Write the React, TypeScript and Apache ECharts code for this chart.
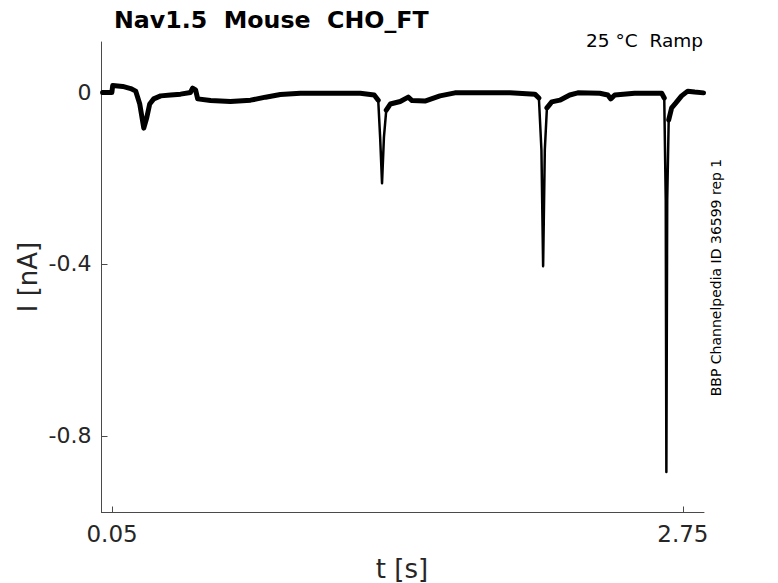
import React, { useEffect, useRef } from "react";
import * as echarts from "echarts";

// Time (s) and current (nA)
const timeS: number[] = [
  0.005, 0.049, 0.053, 0.1005, 0.138, 0.162, 0.181, 0.2, 0.214, 0.228, 0.247, 0.28, 0.327, 0.374,
  0.421, 0.431, 0.445, 0.455, 0.516, 0.61, 0.705, 0.776, 0.846, 0.941, 1.083, 1.224, 1.29, 1.309,
  1.318, 1.327, 1.336, 1.347, 1.366, 1.413, 1.451, 1.469, 1.53, 1.601, 1.672, 1.79, 1.932, 2.05,
  2.069, 2.081, 2.089, 2.097, 2.107, 2.13, 2.168, 2.215, 2.253, 2.357, 2.395, 2.409, 2.428, 2.522,
  2.65, 2.662, 2.669, 2.672, 2.676, 2.683, 2.697, 2.716, 2.744, 2.773, 2.806, 2.848,
];
const currentNA: number[] = [
  -0.001, -0.001, 0.015, 0.013, 0.008, 0.002, -0.028, -0.084, -0.06, -0.028, -0.016, -0.009, -0.007, -0.005,
  -0.001, 0.009, 0.005, -0.016, -0.02, -0.022, -0.019, -0.012, -0.006, -0.003, -0.003, -0.003, -0.007, -0.019,
  -0.105, -0.212, -0.105, -0.042, -0.028, -0.022, -0.012, -0.02, -0.021, -0.009, -0.002, -0.002, -0.002, -0.005,
  -0.014, -0.135, -0.405, -0.135, -0.037, -0.023, -0.019, -0.007, -0.002, -0.003, -0.007, -0.016, -0.007, -0.003,
  -0.003, -0.014, -0.251, -0.884, -0.251, -0.065, -0.037, -0.026, -0.009, 0.002, 0.0, -0.002,
];

const xTicks: number[] = [0.05, 2.75];
const yTicks: number[] = [-0.8, -0.4, 0];

const titleText = "Nav1.5  Mouse  CHO_FT";
const conditionText = "25 °C  Ramp";
const sideText = "BBP Channelpedia ID 36599 rep 1";
const xName = "t [s]";
const yName = "I [nA]";

const FONT = "DejaVu Sans";

export default function App() {
  const ref = useRef<HTMLDivElement>(null);
  useEffect(() => {
    if (!ref.current) return;
    const chart = echarts.init(ref.current, undefined, { renderer: "svg" });
    const trace = timeS.map((t, i) => [t, currentNA[i]]);
    // thicker band for slow (noisy) parts, omitted on fast spikes
    const band = trace.map(([t, v]) => (v > -0.1 ? [t, v] : [t, "-"]));
    chart.setOption({
      animation: false,
      backgroundColor: "#ffffff",
      grid: { left: 101.5, right: 74, top: 42, bottom: 70.5, containLabel: false },
      xAxis: {
        type: "value",
        min: 0,
        max: 2.85,
        splitLine: { show: false },
        axisLine: { show: true, onZero: false, lineStyle: { color: "#4a4a4a", width: 1 } },
        axisTick: { show: true, inside: true, length: 6, customValues: xTicks, lineStyle: { color: "#4a4a4a" } },
        axisLabel: {
          customValues: xTicks,
          fontFamily: FONT,
          fontSize: 23,
          color: "#262626",
          margin: 10,
          formatter: (v: number) => String(v),
        },
      },
      yAxis: {
        type: "value",
        min: -0.978,
        max: 0.1163,
        splitLine: { show: false },
        axisLine: { show: true, onZero: false, lineStyle: { color: "#4a4a4a", width: 1 } },
        axisTick: { show: true, inside: true, length: 6, customValues: yTicks, lineStyle: { color: "#4a4a4a" } },
        axisLabel: {
          customValues: yTicks,
          fontFamily: FONT,
          fontSize: 22,
          color: "#262626",
          margin: 10,
          formatter: (v: number) => (Math.abs(v) < 1e-9 ? "0" : String(v)),
        },
      },
      series: [
        {
          type: "line",
          data: band,
          showSymbol: false,
          symbol: "none",
          connectNulls: false,
          lineStyle: { color: "#000000", width: 5, cap: "round", join: "round" },
          silent: true,
        },
        {
          type: "line",
          data: trace,
          showSymbol: false,
          symbol: "none",
          lineStyle: { color: "#000000", width: 2.5, cap: "round", join: "round" },
          silent: true,
        },
      ],
      graphic: [
        {
          type: "text",
          x: 114,
          y: 19.5,
          style: {
            text: titleText,
            fontFamily: FONT,
            fontWeight: "bold",
            fontSize: 23.7,
            fill: "#000000",
            align: "left",
            verticalAlign: "middle",
          },
        },
        {
          type: "text",
          x: 703,
          y: 40,
          style: {
            text: conditionText,
            fontFamily: FONT,
            fontSize: 18.5,
            fill: "#000000",
            align: "right",
            verticalAlign: "middle",
          },
        },
        {
          type: "text",
          x: 716,
          y: 277.5,
          rotation: Math.PI / 2,
          style: {
            text: sideText,
            fontFamily: FONT,
            fontSize: 14,
            fill: "#000000",
            align: "center",
            verticalAlign: "middle",
          },
        },
        {
          type: "text",
          x: 402,
          y: 569,
          style: {
            text: xName,
            fontFamily: FONT,
            fontSize: 26,
            fill: "#262626",
            align: "center",
            verticalAlign: "middle",
          },
        },
        {
          type: "text",
          x: 28,
          y: 277,
          rotation: Math.PI / 2,
          style: {
            text: yName,
            fontFamily: FONT,
            fontSize: 26,
            fill: "#262626",
            align: "center",
            verticalAlign: "middle",
          },
        },
      ],
    });
    return () => chart.dispose();
  }, []);
  return (
    <div
      ref={ref}
      style={{ position: "fixed", left: 0, top: 0, width: 778, height: 583, background: "#fff" }}
    />
  );
}
